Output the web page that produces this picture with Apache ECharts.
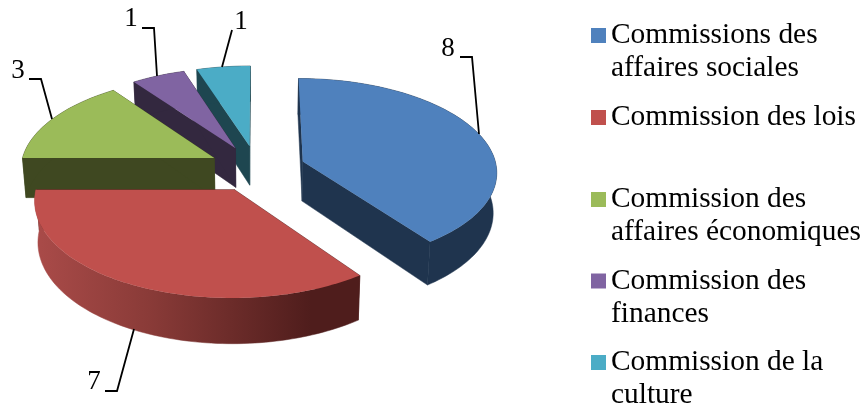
<!DOCTYPE html>
<html><head><meta charset="utf-8">
<style>html,body{margin:0;padding:0;background:#fff}#c{width:863px;height:407px}</style>
<script src="https://cdn.jsdelivr.net/npm/echarts@6/dist/echarts.min.js"></script>
</head><body><div id="c"></div>
<script>
const categories = ["Commissions des\naffaires sociales","Commission des lois\n ","Commission des\naffaires économiques","Commission des\nfinances","Commission de la\nculture"];
const values = [8,7,3,1,1];
const topColors = ["#4F81BD","#C0504D","#9BBB59","#8064A2","#4BACC6"];
const wallColors = ["#1F344E","#4F1D1C","#3F4821","#33283F","#1E4650"];
const stacking = [4,5,3,2,1];
const legendFirstLine = [35.5,117.5,199.5,281,362.5];
const leaders = [
 [[460,57],[472,57],[479,134]],
 [[105,391],[117,391],[134,329]],
 [[29,79],[41,79],[52,119]],
 [[142,28],[154,28],[157,76]],
 [[232,30],[222,67]]
];
const labelAt = [[448,49],[94,382],[18,71],[131,19],[241,22]];

const CX=257, CY=168.5, R=194, H=92.7, P=0.102, EXPLODE=0.25, DEPTH=40, SHRINK=0.985;
const total = values.reduce((a,b)=>a+b,0);
function project(X,Z,low){
  const w=1+P*Z;
  let x=R*X/w, y=-H*Z/w;
  if(low){x*=SHRINK; y+=DEPTH/w;}
  return [CX+x,CY+y];
}
function makeItem(i){
  return function(params,api){
    const v=api.value(0);
    let before=0; for(let k=0;k<i;k++) before+=values[k];
    const a0=before/total*2*Math.PI, a1=(before+v)/total*2*Math.PI, mid=(a0+a1)/2;
    const ox=EXPLODE*Math.sin(mid), oz=EXPLODE*Math.cos(mid);
    const top=[],bot=[];
    const n=Math.max(8,Math.round((a1-a0)*40));
    for(let s=0;s<=n;s++){
      const a=a0+(a1-a0)*s/n, X=ox+Math.sin(a), Z=oz+Math.cos(a);
      top.push(project(X,Z,false)); bot.push(project(X,Z,true));
    }
    const aT=project(ox,oz,false), aB=project(ox,oz,true);
    const wall=wallColors[i];
    const rimFill = i===1 ? new echarts.graphic.LinearGradient(0,0,1,0,[
      {offset:0,color:"#AA4B49"},{offset:0.35,color:"#8A3B38"},{offset:0.85,color:"#4F1D1C"},{offset:1,color:"#4F1D1C"}]) : wall;
    const wallStyle={fill:wall,stroke:wall,lineWidth:0.5};
    const poly=(pts,style)=>({type:"polygon",shape:{points:pts},style});
    const children=[
      poly([top[0],aT,aB,bot[0]],wallStyle),
      poly([top[n],aT,aB,bot[n]],wallStyle),
      poly(top.concat(bot.slice().reverse()),{fill:rimFill,stroke:rimFill,lineWidth:0.5}),
      poly([aT].concat(top),{fill:topColors[i]}),
      {type:"polyline",shape:{points:leaders[i]},style:{fill:null,stroke:"#000",lineWidth:1.8}},
      {type:"text",style:{x:labelAt[i][0],y:labelAt[i][1],text:String(v),fill:"#000",
        font:"27px 'Liberation Serif'",textAlign:"center",textVerticalAlign:"middle"}}
    ];
    return {type:"group",children};
  };
}
const chart=echarts.init(document.getElementById("c"),null,{renderer:"canvas"});
chart.setOption({
  animation:false,
  backgroundColor:"#fff",
  legend:categories.map((name,i)=>({
    show:true,orient:"vertical",left:591,top:legendFirstLine[i]-49.5,padding:0,icon:"rect",
    itemWidth:15,itemHeight:15,selectedMode:false,height:200,
    data:[name],
    formatter:n=>" \n"+n,
    textStyle:{fontFamily:"Liberation Serif",fontSize:29.4,color:"#000",lineHeight:33}
  })),
  series:categories.map((name,i)=>({
    type:"custom",name,coordinateSystem:"none",z:stacking[i],silent:true,
    itemStyle:{color:topColors[i]},
    renderItem:makeItem(i),
    data:[[values[i]]]
  }))
});
</script></body></html>
